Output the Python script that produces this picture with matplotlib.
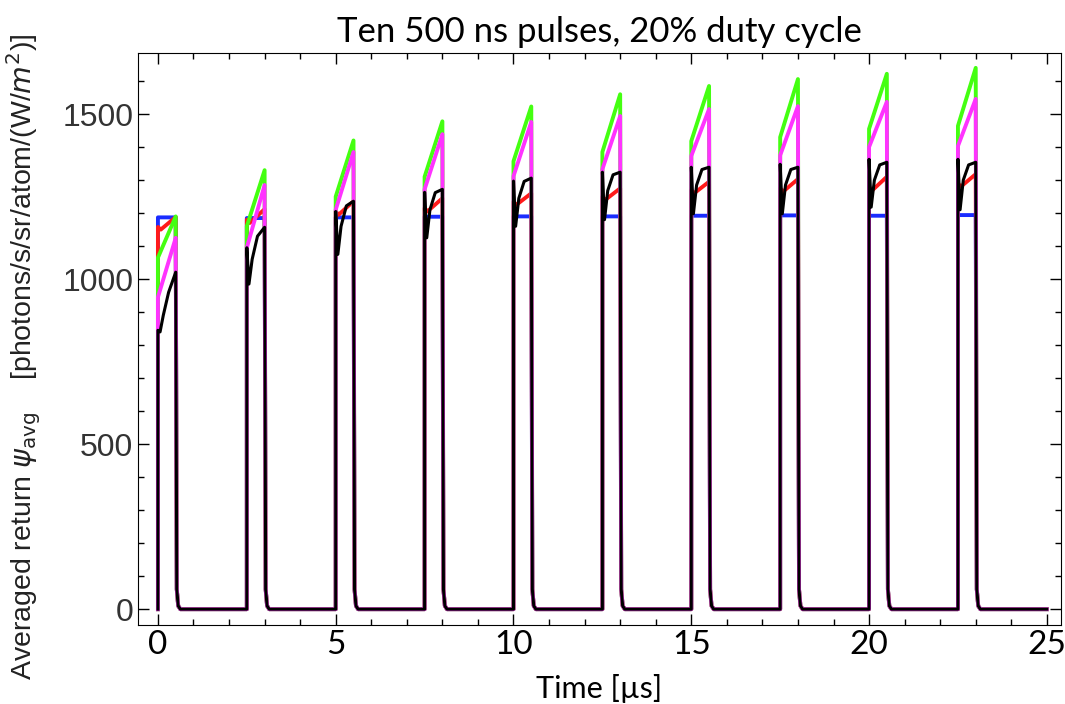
import matplotlib
matplotlib.use("Agg")
import matplotlib.pyplot as plt
from matplotlib.ticker import MultipleLocator

# pulse start times [us], pulse width 0.5 us
pulse_t0 = [0, 2.5, 5, 7.5, 10, 12.5, 15, 17.5, 20, 22.5]
t_end = 25

# per-pulse values
blue_lvl = [1187, 1185, 1187, 1189, 1190, 1190, 1192, 1193, 1192, 1194]

red_start = [1158, 1180, 1205, 1215, 1235, 1250, 1270, 1275, 1280, 1290]
red_dip = [1150, 1170, 1195, 1205, 1225, 1240, 1260, 1265, 1268, 1280]
red_end = [1188, 1212, 1236, 1245, 1260, 1275, 1295, 1303, 1310, 1318]

green_start = [1065, 1160, 1250, 1310, 1357, 1385, 1418, 1430, 1455, 1464]
green_end = [1190, 1330, 1420, 1478, 1523, 1560, 1585, 1606, 1622, 1640]

mag_start = [945, 1095, 1210, 1272, 1312, 1333, 1373, 1375, 1400, 1403]
mag_end = [1125, 1285, 1385, 1439, 1476, 1494, 1515, 1524, 1537, 1546]

black_spike = [845, 1095, 1205, 1263, 1297, 1324, 1339, 1348, 1363, 1363]
black_dip = [840, 985, 1075, 1125, 1160, 1180, 1198, 1198, 1218, 1210]
black_mid = [890, 1060, 1160, 1210, 1245, 1268, 1285, 1285, 1300, 1300]
black_mid2 = [960, 1130, 1222, 1262, 1296, 1316, 1332, 1332, 1346, 1346]
black_end = [1021, 1157, 1236, 1272, 1306, 1324, 1339, 1339, 1354, 1354]


def pulse_trace(offsets, *levels):
    # build a time trace: rise at t0, in-pulse nodes, fast decay after 0.5 us
    t, y = [], []
    for i, t0 in enumerate(pulse_t0):
        t.append(t0)
        y.append(0)
        for dt, lv in zip(offsets, levels):
            t.append(t0 + dt)
            y.append(lv[i])
        t += [t0 + 0.53, t0 + 0.57, t0 + 0.63]
        y += [60, 10, 0]
    t.append(t_end)
    y.append(0)
    return t, y


traces = [
    (pulse_trace([0, 0.5], blue_lvl, blue_lvl), "#1a2cff"),
    (pulse_trace([0, 0.08, 0.5], red_start, red_dip, red_end), "#ff1a1a"),
    (pulse_trace([0, 0.5], green_start, green_end), "#44ff11"),
    (pulse_trace([0, 0.5], mag_start, mag_end), "#ff33ff"),
    (pulse_trace([0, 0.06, 0.15, 0.3, 0.5],
                 black_spike, black_dip, black_mid, black_mid2, black_end), "#000000"),
]

narrow = ["Lato", "DejaVu Sans"]
plain = ["Liberation Sans", "DejaVu Sans"]

fig = plt.figure(figsize=(10.65, 7.04), dpi=100)
ax = fig.add_axes([0.1296, 0.1122, 0.8667, 0.8125])

for (t, y), c in traces:
    lw = 2.2 if c == "#000000" else 2.8
    ax.plot(t, y, color=c, lw=lw, solid_joinstyle="round")

ax.set_xlim(-0.56, 25.4)
ax.set_ylim(-48, 1685)

ax.xaxis.set_major_locator(MultipleLocator(5))
ax.xaxis.set_minor_locator(MultipleLocator(1))
ax.yaxis.set_major_locator(MultipleLocator(500))
ax.yaxis.set_minor_locator(MultipleLocator(100))
ax.tick_params(which="both", direction="in", top=True, right=True, width=1)
ax.tick_params(which="major", length=8)
ax.tick_params(which="minor", length=4)

for lab in ax.get_xticklabels():
    lab.set_family(narrow)
    lab.set_fontsize(24)
for lab in ax.get_yticklabels():
    lab.set_family(plain)
    lab.set_fontsize(23)
    lab.set_color("#333333")

ax.set_title("Ten 500 ns pulses, 20% duty cycle", family=narrow, fontsize=25, pad=8)
ax.set_xlabel("Time [µs]", family=narrow, fontsize=22, labelpad=10)
ylab = ax.set_ylabel(r"Averaged return $\psi_{\rm avg}$    [photons/s/sr/atom/(W/$m^2$)]",
                     family=plain, fontsize=20.5, color="#222222", labelpad=14)
ylab.set_y(0.47)

fig.savefig("out.png", dpi=100)
